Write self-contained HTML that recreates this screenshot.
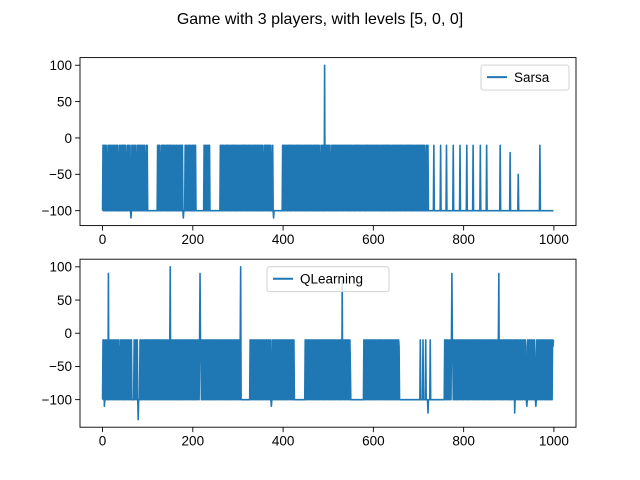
<!DOCTYPE html>
<html><head><meta charset="utf-8"><style>
body{margin:0;background:#fff}
svg{display:block;font-family:"Liberation Sans","DejaVu Sans",sans-serif}
</style></head><body>
<svg id="fig" width="640" height="480" viewBox="0 0 640 480">
<rect width="640" height="480" fill="#fff"/>
<text x="320" y="24" text-anchor="middle" font-size="16" fill="#000">Game with 3 players, with levels [5, 0, 0]</text>
</svg>
<script>
// Value codes: A=-100, B=-10, E=-20, C=-30, D=-50, L=-110, M=-120, N=-130, F=80, G=90, H=100
const codeValues = {A:-100,B:-10,E:-20,C:-30,D:-50,L:-110,M:-120,N:-130,F:80,G:90,H:100};
const sarsaCodes = [
"ABABBABABAEABABBABAABABCABABAABBABAEABABAABABBABAB",
"ABAEABABBAABALABABABDABABAEABBABABAABABCABABAEABAB",
"AAAAAAAAAAAAAAAAAAAAAABABBABAEABABABBABAABABABABAB",
"ABABEABABABDABABABAABABABABBALAAABABABEABABABABAAB",
"ABABABBAAAAAAAAAAAAAAAAAABABABEABABABBAAAAAAAAAAAA",
"AAAAAAAAAAABABABABABEABABABBABABAABABABABBABABABAB",
"ABABEABABABABBABABABAABABABABEABABABABBABABABABABA",
"BABABAEABABBABABABABABABAEABALAAAAAAAAAAAAAAAAAAAB",
"ABABABEABABABBABABABABABDABABABABABBABABABEABABABA",
"BABABABABBABABEABABABABABABABABAEABABABABAHABABBAB",
"BABABAEABABABBABABABABABABABEABABABABBABABABABABAB",
"ABABEABABABABABBABABABABABDABABABABABBABABABEABABA",
"BABABABABBABABEABABABABABABABABBABABABABEABABABABA",
"BABABBABABABABABEABABABABABBABABABABABABABEABABABA",
"BABABABBABABABAEABABABAAAAAAAAAAAABAAAAAAAAAAAAAAB",
"AAAAAAAAAAAABAAAAAAAAAAAAAABAAAAAAAAAAAAAABAAAAAAA",
"AAAAAAABAAAAAAAAAAAAABAAAAAAAAAAAAAAABAAAAAAAAAAAA",
"ABAAAAAAAAAAAAAAAAAAAAAAAAAAAAABAAAAAAAAAAAAAAAAAA",
"AAAEAAAAAAAAAAAAAAAAADAAAAAAAAAAAAAAAAAAAAAAAAAAAA",
"AAAAAAAAAAAAAAAAAAABAAAAAAAAAAAAAAAAAAAAAAAAAAAAAA"
];
const qlearningCodes = [
"ABABLABABCABAGABDABABEABABCABAABABDABAEABABCABABAB",
"ABABCABABEABDABAAAAABABCABABANAAABABEABABDABABCABA",
"BABDABABEABABCABABABDABABEABABCABABDABABEABABCABAB",
"HABDABABEABABCABABDABABEABABCABABDABABEABABCABABDA",
"BABEABABCABABDABGBEABABCABABDABABEABABCABABDABABEA",
"BABCABABDABABEABABCABABDABABEABABCABABDABABEABABCA",
"BABDABHAAAAAAAAAAAAAAAAAAAABABCABABDABABEABABCABAB",
"DABABEABABCABABDABABEABALABCABABDABABEABABCABABDAB",
"ABEABABCABABDABABEABABCABAAAAAAAAAAAAAAAAAAAAAAAAB",
"ABABCABABDABABEABABCABABDABABEABABCABABDABABEABABC",
"ABABDABABEABABCABABDABABEABABCAFABDABABEABABCABABD",
"AAAAAAAAAAAAAAAAAAAAAAAAAAAAABABEABABCABABDABABEAB",
"ABCABABDABABEABABCABABDABABEABABCABABDABABEABABCAB",
"ABDABABEAAAAAAAAAAAAAAAAAAAAAAAAAAAAAAAAAAAAAAAAAA",
"AAAABAAAAABAAAAABAAAAMAAAABAAAAAAAAAAAAAAAAAAAAAAA",
"AAAAAAAABABCABABDABABEABGBCABABDABABEABABCABABDABA",
"BABEABABCABABDABABEABABCABABDABABEABABCABABDABABEA",
"BABCABABDABABEABABCABABDABABGABCABABDABABEABABCABA",
"BABDABABEABABMABABDABABEABABCABABDABABEALABCABABDA",
"BABEABABCALABDABABEABABCABABDABABEABABCABABDABABEB"
];
const xTicks = [0,200,400,600,800,1000];
const yTicks = [-100,-50,0,50,100];

const NS="http://www.w3.org/2000/svg";
const svg=document.getElementById('fig');
function mk(tag,attrs,parent){const e=document.createElementNS(NS,tag);for(const k in attrs)e.setAttribute(k,attrs[k]);(parent||svg).appendChild(e);return e;}

function drawPanel(codes,label,top,legendX,legendW,name){
  const values=codes.join('').split('').map(c=>codeValues[c]);
  const n=values.length;
  const L=80,R=576,T=top,B=top+168;
  const xmin=0,xmax=n-1,xm=(xmax-xmin)*0.05;
  const ymin=Math.min(...values),ymax=Math.max(...values),ym=(ymax-ymin)*0.05;
  const x=v=>L+(v-(xmin-xm))/((xmax+xm)-(xmin-xm))*(R-L);
  const y=v=>B-(v-(ymin-ym))/((ymax+ym)-(ymin-ym))*(B-T);
  const g=mk('g',{});
  
  
  let d='';
  values.forEach((v,i)=>{d+=(i?'L':'M')+x(i).toFixed(2)+' '+y(v).toFixed(2);});
  const p=mk('path',{d:d,fill:'none',stroke:'#1f77b4','stroke-width':'1.6','stroke-linejoin':'round'},g);
  
  
  const fr=mk('rect',{x:L,y:T,width:R-L,height:B-T,fill:'none',stroke:'#000','stroke-width':'0.9'},g);
  
  
  xTicks.forEach(t=>{
    const X=x(t);
    mk('line',{x1:X,x2:X,y1:B,y2:B+4.9,stroke:'#000','stroke-width':'0.9'},g);
    const tx=mk('text',{x:X,y:B+18.5,'text-anchor':'middle','font-size':'13.5',fill:'#000'},g);
    tx.textContent=t;
    
    
  });
  yTicks.forEach(t=>{
    const Y=y(t);
    mk('line',{x1:L-4.9,x2:L,y1:Y,y2:Y,stroke:'#000','stroke-width':'0.9'},g);
    const tx=mk('text',{x:L-8,y:Y+4.8,'text-anchor':'end','font-size':'13.5',fill:'#000'},g);
    tx.textContent=t.toString().replace('-','\u2212');
    
    
  });
  const lg=mk('g',{},g);
  
  
  mk('rect',{x:legendX,y:T+7.5,width:legendW,height:25,rx:2.5,fill:'#fff','fill-opacity':'0.8',stroke:'#ccc','stroke-width':'0.9'},lg);
  mk('line',{x1:legendX+6,x2:legendX+26,y1:T+19.5,y2:T+19.5,stroke:'#1f77b4','stroke-width':'2'},lg);
  const lt=mk('text',{x:legendX+33,y:T+24.5,'font-size':'13.5',fill:'#000'},lg);
  lt.textContent=label;
  
  
}
drawPanel(sarsaCodes,'Sarsa',57.6,481,88,'sarsa');
drawPanel(qlearningCodes,'QLearning',259.2,267,122,'qlearning');
</script>
</body></html>
